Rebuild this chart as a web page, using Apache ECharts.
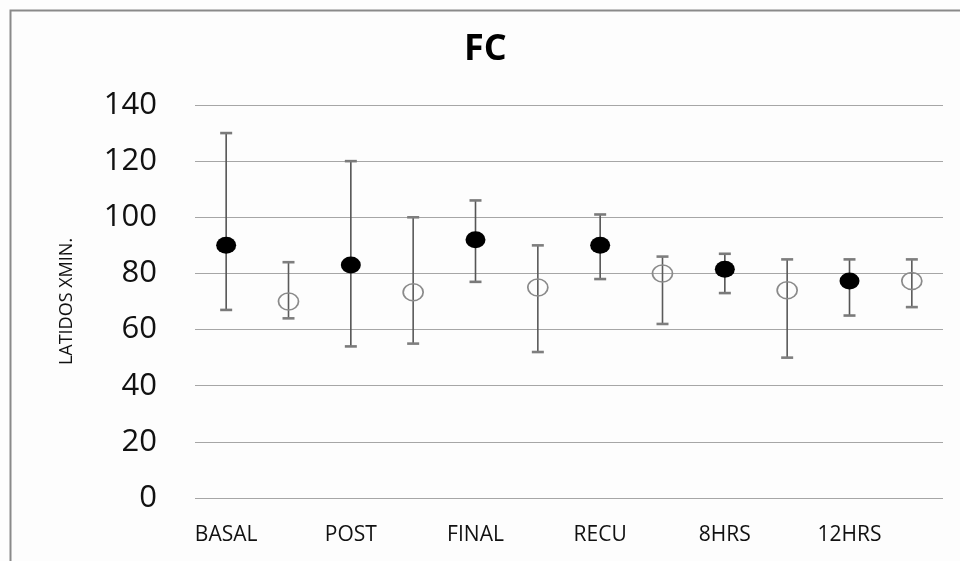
<!DOCTYPE html>
<html>
<head>
<meta charset="utf-8">
<script src="https://cdn.jsdelivr.net/npm/echarts@6/dist/echarts.min.js"></script>
<style>
html,body{margin:0;padding:0;background:#fdfdfd;}
#c{width:960px;height:561px;}
</style>
</head>
<body>
<div id="c"></div>
<script>
var categories = ['BASAL', 'POST', 'FINAL', 'RECU', '8HRS', '12HRS'];
var yTicks = [0, 20, 40, 60, 80, 100, 120, 140];

var filledMean  = [90, 83, 92, 90, 81.5, 77.3];
var filledHigh  = [130, 120, 106, 101, 87, 85];
var filledLow   = [67, 54, 77, 78, 73, 65];

var hollowMean  = [70, 73.3, 75, 80, 74, 77.3];
var hollowHigh  = [84, 100, 90, 86, 85, 85];
var hollowLow   = [64, 55, 52, 62, 50, 68];

// two slots per category: first slot filled marker, second slot hollow marker
var slots = [];
categories.forEach(function (c) { slots.push(c); slots.push(''); });

function pts(arr, offset) {
  return arr.map(function (v, i) { return [i * 2 + offset, v]; });
}
function bars(lo, hi, offset) {
  return lo.map(function (v, i) { return [i * 2 + offset, v, hi[i]]; });
}

function errRender(lineColor, capColor) {
  return function (params, api) {
    var x = api.value(0);
    var lo = api.coord([x, api.value(1)]);
    var hi = api.coord([x, api.value(2)]);
    var hw = 6;
    return {
      type: 'group',
      children: [
        { type: 'line', shape: { x1: lo[0], y1: lo[1], x2: hi[0], y2: hi[1] },
          style: { stroke: lineColor, lineWidth: 1.6 } },
        { type: 'line', shape: { x1: hi[0] - hw, y1: hi[1], x2: hi[0] + hw, y2: hi[1] },
          style: { stroke: capColor, lineWidth: 2.6 } },
        { type: 'line', shape: { x1: lo[0] - hw, y1: lo[1], x2: lo[0] + hw, y2: lo[1] },
          style: { stroke: capColor, lineWidth: 2.6 } }
      ]
    };
  };
}

var chart = echarts.init(document.getElementById('c'), null, { renderer: 'canvas' });
chart.setOption({
  backgroundColor: '#fdfdfd',
  animation: false,
  title: {
    text: 'FC',
    left: 459, top: 27,
    textStyle: { fontFamily: 'Open Sans', fontWeight: 'bold', fontSize: 36, color: '#000' }
  },
  graphic: [{
    type: 'rect', left: 8, top: 8, z: -1,
    shape: { width: 1000, height: 1000 },
    style: { fill: 'none', stroke: '#8a8a8a', lineWidth: 2 }
  }],
  grid: { left: 195, right: 17, top: 105, bottom: 63 },
  xAxis: {
    type: 'category',
    data: slots,
    boundaryGap: true,
    axisLine: { show: false },
    axisTick: { show: false },
    axisLabel: {
      interval: 0, margin: 27,
      fontFamily: 'Open Sans', fontSize: 21, color: '#111'
    }
  },
  yAxis: {
    type: 'value',
    min: yTicks[0], max: yTicks[yTicks.length - 1], interval: yTicks[1] - yTicks[0],
    name: 'LATIDOS XMIN.',
    nameLocation: 'middle',
    nameGap: 119,
    nameRotate: 90,
    nameTextStyle: { fontFamily: 'Open Sans', fontSize: 18, color: '#111' },
    axisLine: { show: false },
    axisTick: { show: false },
    axisLabel: { margin: 38, fontFamily: 'Open Sans', fontSize: 31, color: '#111' },
    splitLine: { lineStyle: { color: '#a6a6a6', width: 1.2 } }
  },
  series: [
    {
      type: 'custom', name: 'errFilled', z: 2,
      renderItem: errRender('#555555', '#7a7a7a'),
      data: bars(filledLow, filledHigh, 0)
    },
    {
      type: 'custom', name: 'errHollow', z: 2,
      renderItem: errRender('#5a5a5a', '#7e7e7e'),
      data: bars(hollowLow, hollowHigh, 1)
    },
    {
      type: 'scatter', name: 'filled', z: 5,
      symbol: 'circle', symbolSize: [20, 17],
      itemStyle: { color: '#000', opacity: 1 },
      data: pts(filledMean, 0)
    },
    {
      type: 'scatter', name: 'hollow', z: 5,
      symbol: 'circle', symbolSize: [20, 17],
      itemStyle: { color: 'rgba(0,0,0,0)', borderColor: '#8a8a8a', borderWidth: 1.6, opacity: 1 },
      data: pts(hollowMean, 1)
    }
  ]
});
</script>
</body>
</html>
